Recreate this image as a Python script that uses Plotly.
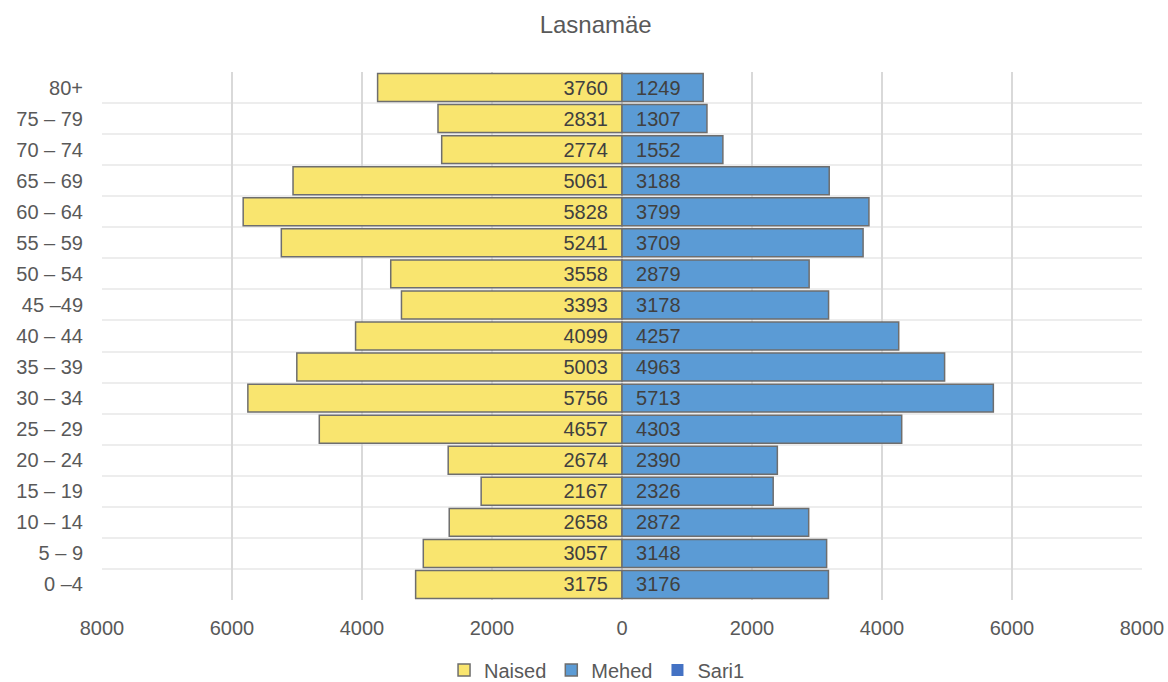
import plotly.graph_objects as go

categories = ["0 –4", "5 – 9", "10 – 14", "15 – 19", "20 – 24", "25 – 29", "30 – 34",
              "35 – 39", "40 – 44", "45 –49", "50 – 54", "55 – 59", "60 – 64",
              "65 – 69", "70 – 74", "75 – 79", "80+"]
naised = [3175, 3057, 2658, 2167, 2674, 4657, 5756, 5003, 4099, 3393, 3558, 5241, 5828,
          5061, 2774, 2831, 3760]
mehed = [3176, 3148, 2872, 2326, 2390, 4303, 5713, 4963, 4257, 3178, 2879, 3709, 3799,
         3188, 1552, 1307, 1249]
x_ticks = [-8000, -6000, -4000, -2000, 0, 2000, 4000, 6000, 8000]

pos = list(range(len(categories)))
font = "Liberation Sans, Arial, sans-serif"
txtcol = "#404040"
pad = "\u00a0\u00a0"

fig = go.Figure()
fig.add_trace(go.Bar(
    y=pos, x=[-v for v in naised], orientation="h", name="Naised",
    marker=dict(color="#F9E56F", line=dict(color="#6E6E6E", width=1.5)),
    width=0.9, text=[str(v) + pad for v in naised], textposition="inside",
    insidetextanchor="start", textangle=0,
    textfont=dict(size=20, color=txtcol, family=font), hoverinfo="skip"))
fig.add_trace(go.Bar(
    y=pos, x=mehed, orientation="h", name="Mehed",
    marker=dict(color="#5B9BD5", line=dict(color="#6E6E6E", width=1.5)),
    width=0.9, text=[pad + str(v) for v in mehed], textposition="inside",
    insidetextanchor="start", textangle=0,
    textfont=dict(size=20, color=txtcol, family=font), hoverinfo="skip"))
fig.add_trace(go.Bar(
    y=[None], x=[None], orientation="h", name="Sari1",
    marker=dict(color="#4472C4", line=dict(width=0))))

fig.update_layout(
    width=1168, height=682,
    paper_bgcolor="white", plot_bgcolor="white",
    margin=dict(l=102, r=26, t=72, b=82, autoexpand=False),
    barmode="overlay",
    title=dict(text="Lasnamäe", x=0.51, xanchor="center", y=1 - 25 / 682, yanchor="middle",
               font=dict(size=24, color="#595959", family=font)),
    font=dict(family=font, size=20, color="#595959"),
    uniformtext=dict(minsize=10, mode="show"),
    legend=dict(orientation="h", x=0.476, xanchor="center", y=-(670 - 600) / 528,
                yanchor="middle", font=dict(size=20, color="#595959"), itemwidth=30,
                traceorder="normal", tracegroupgap=0, borderwidth=0),
    showlegend=True,
)
fig.update_xaxes(
    range=[-8000, 8000], tickvals=x_ticks, ticktext=[str(abs(v)) for v in x_ticks],
    showgrid=True, gridcolor="#D9D9D9", gridwidth=1.5, zeroline=False, automargin=False,
    showline=False, ticks="", tickfont=dict(size=20, color="#595959"), ticklabelstandoff=14)
fig.update_yaxes(
    range=[-0.5, len(categories) - 0.5], tickvals=pos, ticktext=categories,
    showgrid=False, zeroline=False, showline=False, ticks="", automargin=False,
    tickfont=dict(size=20, color="#595959"), ticklabelstandoff=18,
    minor=dict(tickvals=[i - 0.5 for i in range(len(categories) + 1)], showgrid=True,
               gridcolor="#EDEDED", gridwidth=2, ticks=""))

fig.write_html("out.html", config={"displayModeBar": False},
               post_script="document.body.style.margin='0';document.body.style.overflow='hidden';")
